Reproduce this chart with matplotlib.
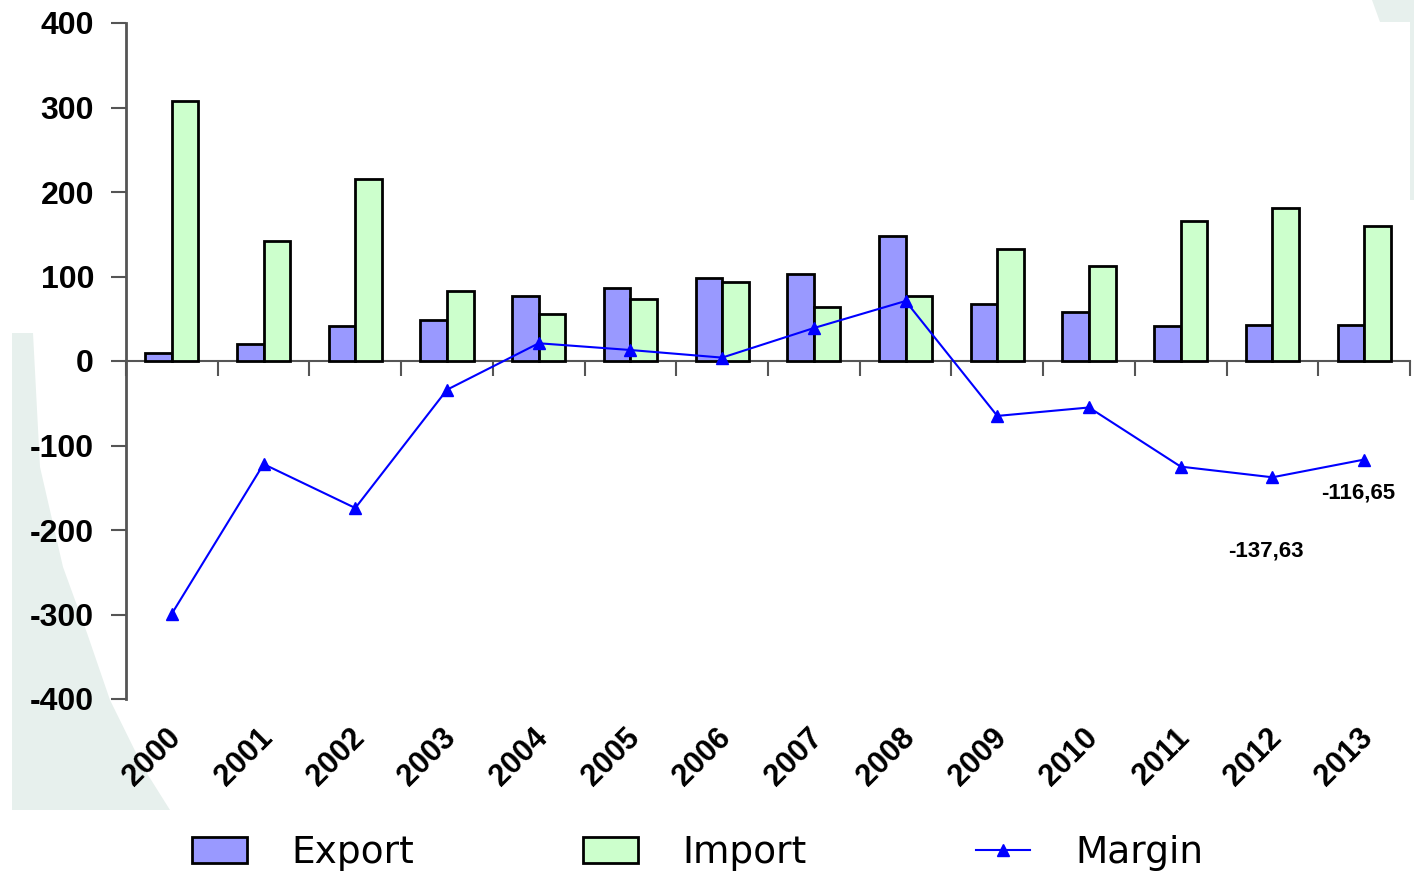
import matplotlib.pyplot as plt
import matplotlib.transforms as mtransforms
import numpy as np
from matplotlib.patches import Polygon

# yearly trade figures
years = ['2000', '2001', '2002', '2003', '2004', '2005', '2006',
         '2007', '2008', '2009', '2010', '2011', '2012', '2013']
export = [9, 20, 41, 49, 77, 86, 98, 103, 148, 68, 58, 41, 43, 43]
imports = [308, 142, 215, 83, 56, 73, 94, 64, 77, 133, 113, 166, 180.63, 159.65]
margin = [-299, -122, -174, -34, 21, 13, 4, 39, 71, -65, -55, -125, -137.63, -116.65]

W, H = 1414, 875
fig = plt.figure(figsize=(W / 100, H / 100), dpi=100)

# pale slide decoration behind the chart
def px(points):
    return [(x / W, 1 - y / H) for x, y in points]

tint = '#e7f0ed'
left_shape = px([(12, 333), (12, 810), (170, 810), (143, 767), (110, 700),
                 (87, 633), (63, 567), (40, 467), (33, 333)])
right_shape = px([(1372, 0), (1414, 0), (1414, 200), (1410, 200),
                  (1410, 22), (1380, 22)])
for shp in (left_shape, right_shape):
    fig.patches.append(Polygon(shp, closed=True, transform=fig.transFigure,
                               facecolor=tint, edgecolor='none', zorder=-5))

ax = fig.add_axes([126 / W, 1 - 699 / H, (1410 - 126) / W, (699 - 23) / H])
ax.patch.set_alpha(0)

x = np.arange(len(years))
w = 0.29
b1 = ax.bar(x - w / 2, export, w, color='#9999ff', edgecolor='black',
            linewidth=2, label='Export', zorder=2)
b2 = ax.bar(x + w / 2, imports, w, color='#ccffcc', edgecolor='black',
            linewidth=2, label='Import', zorder=2)
ln, = ax.plot(x, margin, color='#0000ff', lw=1.5, marker='^', markersize=9,
              label='Margin', zorder=3)

# value labels for the last two years
ax.annotate('-137,63', (x[12], margin[12]), xytext=(-5, -53),
            textcoords='offset points', ha='center', va='center',
            fontsize=16, fontweight='bold', family='Liberation Sans')
ax.annotate('-116,65', (x[13], margin[13]), xytext=(-4, -24),
            textcoords='offset points', ha='center', va='center',
            fontsize=16, fontweight='bold', family='Liberation Sans')

ax.set_xlim(-0.5, len(years) - 0.5)
ax.set_ylim(-400, 400)
ax.set_yticks(range(-400, 401, 100))
ax.set_yticklabels([str(v) for v in range(-400, 401, 100)],
                   fontsize=23, fontweight='bold', family='Liberation Sans')
ax.tick_params(axis='y', length=11, width=1.5, color='#555555', pad=12)

ax.set_xticks(x)
ax.set_xticklabels(years, rotation=45, ha='right', rotation_mode='anchor',
                   fontsize=22, fontweight='bold', family='Liberation Sans')
ax.tick_params(axis='x', length=0, pad=17)
# nudge the slanted year labels a little to the left
shift = mtransforms.ScaledTranslation(-6 / 100, 0, fig.dpi_scale_trans)
for lbl in ax.get_xticklabels():
    lbl.set_transform(lbl.get_transform() + shift)

for side in ('top', 'right', 'bottom'):
    ax.spines[side].set_visible(False)
ax.spines['left'].set_color('#555555')
ax.spines['left'].set_linewidth(2)

# zero line with category separators
zero = ax.secondary_xaxis(0.5)
zero.set_alignment('bottom')
zero.set_xticks(np.arange(len(years) + 1) - 0.5)
zero.set_xticklabels([])
zero.tick_params(length=11, width=1.5, color='#555555',
                 labelbottom=False, labeltop=False)
zero.spines['bottom'].set_color('#555555')
zero.spines['bottom'].set_linewidth(1.5)

fig.legend([b1, b2, ln], ['Export', 'Import', 'Margin'],
           loc='center', bbox_to_anchor=(0.4935, 1 - 853 / H), ncol=3,
           frameon=False, prop={'family': 'DejaVu Sans', 'size': 27},
           handlelength=1.45, handleheight=0.7, handletextpad=1.2,
           columnspacing=4.5)

fig.savefig('out.png', dpi=100)
